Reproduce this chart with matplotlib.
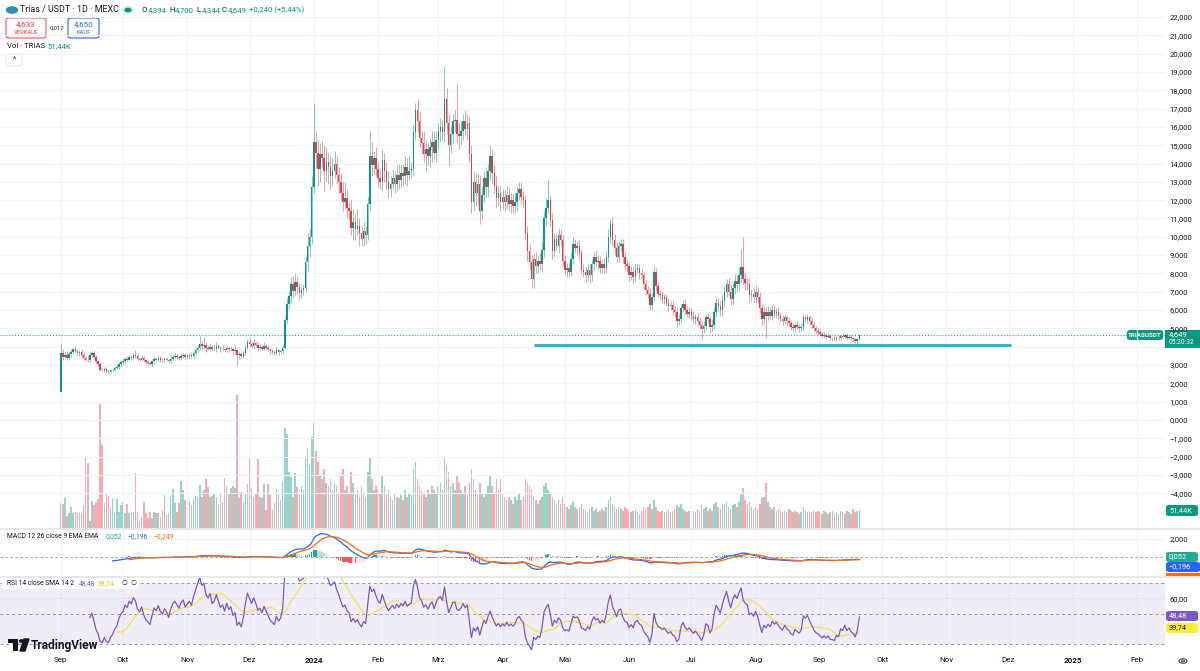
import numpy as np
import pandas as pd
import matplotlib.pyplot as plt
from matplotlib.patches import Rectangle, Circle, Polygon, FancyBboxPatch

plt.rcParams['font.family'] = ['Roboto', 'DejaVu Sans']

# ---- daily candles, 1 Sep 2023 .. 20 Sep 2024 (index = day number) ----
first_open = 1.55
close = [
    # Sep 2023
    3.65, 3.45, 3.55, 3.40, 3.60, 3.70, 3.85, 3.75, 3.65, 3.70, 3.55, 3.40, 3.30, 3.25, 3.55,
    3.65, 3.45, 3.20, 3.05, 2.75, 2.70, 2.80, 2.65, 2.60, 2.70, 2.75, 2.85, 2.90, 3.05, 3.15,
    # Oct
    3.20, 3.35, 3.30, 3.45, 3.40, 3.55, 3.50, 3.35, 3.30, 3.40, 3.25, 3.15, 3.10, 3.05, 3.20, 3.35,
    3.30, 3.40, 3.30, 3.25, 3.35, 3.30, 3.20, 3.35, 3.45, 3.50, 3.45, 3.40, 3.50, 3.55, 3.45,
    # Nov
    3.50, 3.55, 3.50, 3.65, 3.80, 3.95, 4.15, 4.05, 4.10, 3.95, 3.90, 4.00, 3.85, 3.90, 4.05,
    3.95, 3.85, 3.90, 3.80, 3.95, 3.85, 3.90, 3.75, 3.80, 3.55, 3.60, 3.50, 3.65, 3.95, 4.25,
    # Dec
    4.15, 4.05, 4.20, 4.10, 3.95, 4.00, 3.90, 4.05, 3.95, 3.85, 3.75, 3.70, 3.65, 3.80, 3.70, 3.75,
    3.95, 5.45, 6.35, 6.75, 7.40, 7.05, 7.55, 7.25, 6.95, 7.10, 7.20, 8.65, 9.50, 10.00, 12.70,
    # Jan 2024
    15.20, 14.60, 13.70, 14.50, 14.30, 13.60, 14.10, 13.80, 13.30, 13.60, 14.00, 13.40, 13.00, 12.40,
    11.90, 12.10, 11.60, 11.40, 10.50, 10.80, 10.40, 10.60, 10.20, 9.90, 10.30, 10.10, 11.80, 14.40,
    13.90, 14.30, 13.70,
    # Feb
    13.20, 13.00, 14.20, 13.60, 13.00, 12.60, 12.90, 13.20, 12.90, 13.40, 13.10, 13.50, 13.30, 13.80,
    13.40, 13.60, 13.70, 15.70, 16.90, 16.30, 15.40, 15.10, 14.50, 14.80, 14.40, 14.90, 15.20, 14.60,
    15.30,
    # Mar
    15.80, 16.00, 15.70, 17.50, 16.20, 15.00, 15.60, 16.30, 16.40, 15.60, 15.50, 15.80, 16.30, 15.90,
    16.20, 14.50, 11.90, 13.00, 12.40, 12.90, 11.40, 12.30, 13.20, 12.70, 13.60, 14.40, 13.50, 12.80,
    12.10, 12.40, 11.90,
    # Apr
    12.20, 11.90, 12.30, 11.80, 12.00, 11.70, 11.90, 12.40, 12.60, 12.20, 12.00, 10.20, 9.20, 8.60,
    7.70, 8.80, 8.40, 8.70, 8.50, 9.30, 11.00, 11.60, 12.00, 10.90, 9.20, 9.90, 9.50, 10.10, 9.80, 8.70,
    # May
    8.20, 8.30, 8.10, 8.80, 9.60, 9.40, 9.50, 9.10, 8.20, 8.10, 7.90, 8.20, 7.90, 8.50, 8.90, 8.60,
    8.70, 8.30, 8.50, 8.30, 8.90, 10.00, 10.70, 9.80, 9.40, 8.90, 9.50, 9.60, 8.90, 8.50, 8.40,
    # Jun
    7.90, 8.10, 7.80, 8.20, 8.30, 8.00, 7.90, 7.40, 7.10, 6.90, 6.30, 6.70, 8.10, 7.30, 6.90,
    6.80, 6.60, 6.70, 6.40, 6.20, 6.30, 6.00, 5.90, 5.40, 5.50, 6.10, 6.35, 6.00, 5.80, 5.90,
    # Jul
    5.70, 5.50, 5.60, 5.40, 5.20, 4.95, 5.15, 5.60, 5.50, 5.05, 5.20, 5.90, 6.40, 6.20, 6.00, 6.50,
    7.00, 7.45, 7.00, 6.60, 7.20, 7.60, 7.40, 7.90, 8.35, 7.70, 7.50, 7.40, 6.80, 6.90, 6.70,
    # Aug
    7.00, 6.70, 6.10, 5.50, 5.90, 5.70, 5.90, 5.70, 6.00, 5.80, 5.90, 5.70, 5.50, 5.40, 5.60, 5.40,
    5.30, 5.10, 5.00, 5.20, 5.10, 5.00, 5.10, 5.60, 5.50, 5.60, 5.40, 5.20, 5.00, 4.85, 4.80,
    # Sep 2024
    4.70, 4.60, 4.65, 4.55, 4.60, 4.45, 4.45, 4.40, 4.50, 4.45, 4.60, 4.55, 4.65, 4.50, 4.55,
    4.45, 4.40, 4.30, 4.394, 4.649,
]
wick_up = [
    0.55, 0.25, 0.15, 0.20, 0.15, 0.20, 0.10, 0.20, 0.15, 0.10, 0.20, 0.15, 0.10, 0.25, 0.20,
    0.10, 0.15, 0.10, 0.10, 0.10, 0.15, 0.10, 0.10, 0.05, 0.10, 0.10, 0.10, 0.15, 0.10, 0.10,
    0.15, 0.10, 0.15, 0.10, 0.10, 0.10, 0.25, 0.10, 0.10, 0.15, 0.10, 0.10, 0.10, 0.10, 0.10, 0.15,
    0.10, 0.15, 0.10, 0.10, 0.10, 0.10, 0.10, 0.20, 0.10, 0.15, 0.10, 0.10, 0.15, 0.10, 0.10,
    0.10, 0.10, 0.15, 0.10, 0.15, 0.15, 0.45, 0.20, 0.45, 0.15, 0.15, 0.20, 0.10, 0.25, 0.20,
    0.10, 0.10, 0.20, 0.10, 0.15, 0.10, 0.15, 0.10, 0.30, 0.10, 0.15, 0.10, 0.10, 0.15, 0.15,
    0.20, 0.15, 0.20, 0.10, 0.15, 0.15, 0.10, 0.20, 0.10, 0.15, 0.10, 0.10, 0.10, 0.20, 0.10, 0.10,
    0.15, 0.20, 0.30, 0.30, 0.40, 0.45, 0.50, 0.30, 0.25, 0.25, 0.20, 0.30, 0.70, 0.50, 0.60,
    2.10, 0.60, 0.70, 0.60, 0.80, 0.70, 0.80, 0.50, 0.60, 0.70, 0.70, 0.40, 0.40, 0.50,
    0.60, 0.90, 0.50, 0.30, 0.60, 0.70, 0.50, 0.90, 0.40, 0.40, 0.50, 0.30, 0.40, 1.40,
    0.80, 0.40, 0.60,
    0.40, 0.50, 0.60, 0.40, 0.50, 0.60, 0.40, 0.50, 0.40, 0.50, 0.60, 0.40, 0.50, 0.60,
    0.50, 0.80, 0.40, 0.40, 0.40, 0.60, 0.50, 0.40, 0.70, 0.50, 0.40, 0.50, 0.60, 0.60,
    0.50,
    0.40, 0.50, 0.40, 1.80, 0.60, 0.50, 0.50, 0.40, 0.50, 2.00, 0.60, 0.50, 0.40, 0.60,
    0.50, 0.40, 0.50, 0.60, 0.50, 0.60, 0.50, 0.50, 0.40, 0.60, 0.40, 0.60, 0.40, 0.40,
    0.50, 0.40, 0.40,
    0.40, 0.40, 0.50, 0.40, 0.40, 0.40, 0.50, 0.40, 0.40, 0.40, 0.30, 0.30, 0.40, 0.40,
    0.40, 0.30, 0.40, 0.30, 0.40, 0.40, 0.40, 0.50, 1.10, 0.30, 0.40, 0.30, 0.30, 0.40, 0.30, 0.30,
    0.30, 0.25, 0.30, 0.35, 0.40, 0.30, 0.25, 0.30, 0.20, 0.30, 0.25, 0.30, 0.35, 0.30, 0.25, 0.40,
    0.30, 0.25, 0.30, 0.35, 0.30, 0.45, 0.25, 0.40, 0.35, 0.30, 0.25, 0.30, 0.30, 0.25, 0.30,
    0.25, 0.30, 0.25, 0.30, 0.25, 0.20, 0.30, 0.20, 0.25, 0.20, 0.30, 0.25, 0.30, 0.20, 0.25,
    0.20, 0.25, 0.20, 0.20, 0.25, 0.20, 0.25, 0.20, 0.25, 0.30, 0.25, 0.20, 0.25, 0.20, 0.25,
    0.20, 0.25, 0.20, 0.25, 0.20, 0.20, 0.25, 0.20, 0.25, 0.20, 0.30, 0.25, 0.30, 0.25, 0.30, 0.35,
    0.30, 0.25, 0.30, 0.35, 0.30, 0.35, 0.30, 0.45, 1.00, 1.65, 0.30, 0.25, 0.30, 0.25, 0.30,
    0.30, 0.25, 0.30, 0.25, 0.30, 0.25, 0.30, 0.25, 0.30, 0.25, 0.20, 0.25, 0.20, 0.25, 0.20, 0.15,
    0.20, 0.15, 0.20, 0.15, 0.20, 0.15, 0.20, 0.20, 0.15, 0.20, 0.15, 0.20, 0.15, 0.15, 0.15,
    0.15, 0.10, 0.15, 0.10, 0.15, 0.10, 0.10, 0.15, 0.10, 0.15, 0.10, 0.15, 0.10, 0.10, 0.10,
    0.15, 0.10, 0.10, 0.10, 0.051,
]
wick_dn = [
    0.05, 0.15, 0.10, 0.10, 0.10, 0.15, 0.10, 0.10, 0.10, 0.15, 0.10, 0.15, 0.10, 0.10, 0.10,
    0.15, 0.10, 0.15, 0.10, 0.10, 0.05, 0.10, 0.10, 0.10, 0.05, 0.10, 0.10, 0.05, 0.10, 0.10,
    0.10, 0.10, 0.10, 0.10, 0.15, 0.10, 0.10, 0.10, 0.10, 0.10, 0.10, 0.10, 0.10, 0.10, 0.10, 0.10,
    0.10, 0.10, 0.15, 0.10, 0.10, 0.10, 0.10, 0.10, 0.10, 0.10, 0.10, 0.10, 0.10, 0.10, 0.10,
    0.10, 0.10, 0.10, 0.10, 0.10, 0.10, 0.10, 0.15, 0.20, 0.25, 0.10, 0.15, 0.10, 0.10, 0.20,
    0.10, 0.15, 0.10, 0.10, 0.10, 0.15, 0.10, 0.20, 0.10, 0.55, 0.20, 0.10, 0.10, 0.10, 0.10,
    0.15, 0.10, 0.10, 0.10, 0.20, 0.10, 0.10, 0.10, 0.10, 0.10, 0.15, 0.10, 0.10, 0.10, 0.15, 0.10,
    0.10, 0.10, 0.20, 0.30, 0.35, 0.40, 0.30, 0.35, 0.40, 0.30, 0.30, 0.20, 0.50, 0.60, 0.40,
    0.30, 0.80, 0.90, 0.70, 0.50, 1.10, 0.60, 0.90, 0.70, 0.50, 0.40, 0.50, 0.60, 0.40,
    0.50, 0.40, 0.60, 0.50, 0.40, 0.70, 0.60, 0.30, 0.70, 0.40, 0.40, 0.50, 0.30, 0.40,
    0.60, 0.50, 0.40,
    0.50, 0.40, 0.50, 0.60, 0.40, 0.50, 0.40, 0.30, 0.50, 0.40, 0.50, 0.40, 0.50, 0.40,
    0.60, 0.30, 0.40, 0.30, 0.40, 0.60, 0.50, 0.60, 0.40, 0.90, 0.50, 0.60, 0.80, 0.40,
    0.50,
    0.50, 0.60, 0.40, 0.50, 0.60, 1.10, 0.40, 0.50, 0.60, 0.50, 0.70, 0.50, 0.50, 0.40,
    0.60, 0.40, 0.60, 0.50, 0.70, 0.60, 0.70, 0.50, 0.40, 0.60, 0.50, 0.50, 0.60, 0.40,
    0.50, 0.40, 0.50,
    0.40, 0.50, 0.40, 0.40, 0.50, 0.40, 0.40, 0.50, 0.40, 0.40, 0.40, 0.40, 0.50, 0.40,
    0.50, 0.50, 0.40, 0.40, 0.30, 0.40, 0.40, 0.40, 0.30, 0.30, 0.40, 0.30, 0.30, 0.40, 0.30, 0.30,
    0.30, 0.40, 0.30, 0.25, 0.30, 0.30, 0.35, 0.30, 0.25, 0.30, 0.35, 0.30, 0.40, 0.30, 0.30, 0.25,
    0.35, 0.30, 0.25, 0.30, 0.30, 0.30, 0.35, 0.30, 0.40, 0.30, 0.25, 0.30, 0.35, 0.30, 0.30,
    0.30, 0.25, 0.30, 0.20, 0.25, 0.30, 0.20, 0.25, 0.30, 0.25, 0.30, 0.25, 0.20, 0.25, 0.20,
    0.25, 0.20, 0.25, 0.20, 0.25, 0.20, 0.25, 0.30, 0.35, 0.20, 0.25, 0.20, 0.25, 0.20, 0.25,
    0.25, 0.20, 0.25, 0.20, 0.25, 0.58, 0.20, 0.25, 0.20, 0.30, 0.20, 0.25, 0.30, 0.25, 0.30, 0.30,
    0.35, 0.30, 0.25, 0.30, 0.35, 0.30, 0.40, 0.30, 0.35, 0.30, 0.40, 0.30, 0.35, 0.30, 0.30,
    0.25, 0.30, 0.25, 0.30, 0.25, 1.25, 0.25, 0.20, 0.25, 0.20, 0.25, 0.20, 0.15, 0.20, 0.15, 0.20,
    0.15, 0.20, 0.15, 0.20, 0.15, 0.20, 0.15, 0.20, 0.15, 0.20, 0.15, 0.20, 0.15, 0.15, 0.15,
    0.10, 0.15, 0.10, 0.15, 0.10, 0.10, 0.15, 0.10, 0.10, 0.10, 0.10, 0.10, 0.10, 0.15, 0.10,
    0.10, 0.15, 0.10, 0.10, 0.05,
]
# volume in thousands of TRIAS
volume = [
    72, 69, 86, 34, 43, 60, 43, 46, 43, 43, 43, 63, 203, 186, 20, 77, 66, 74, 83, 355,
    237, 72, 100, 92, 60, 86, 43, 83, 46, 66, 74, 43, 69, 43, 43, 46, 157, 46, 17, 31,
    74, 43, 29, 46, 29, 46, 43, 43, 31, 51, 94, 37, 43, 94, 112, 72, 46, 72,
    134, 109, 80, 66, 77, 66, 80, 92, 89, 123, 89, 109, 140, 117, 89, 92, 100, 89, 69,
    100, 74, 143, 120, 100, 114, 120, 114, 380, 86, 103, 74, 100, 126, 200, 114, 89, 100, 197,
    89, 86, 126, 51, 126, 94, 51, 72, 112, 97, 80, 134, 286, 269, 160, 146, 89, 157, 117,
    100, 120, 110, 200, 230, 180, 260, 300, 220, 190, 150, 140, 170, 130, 120, 140, 110, 130, 120,
    100, 150, 170, 110, 120, 100, 160, 130, 100, 110, 90, 120, 100, 90, 160, 200, 140, 110, 120,
    110, 100, 150, 120, 100, 110, 90, 80, 100, 90, 85, 95, 80, 110, 90, 100, 95, 170, 190, 140,
    120, 110, 100, 90, 110, 100, 120, 110, 100,
    120, 130, 110, 200, 180, 160, 120, 130, 110, 150, 130, 110, 100, 120, 100, 130, 170, 140, 110,
    100, 130, 100, 90, 100, 120, 150, 120, 100, 140, 110, 140,
    100, 90, 80, 90, 80, 70, 90, 80, 100, 80, 90, 140, 130, 120, 110, 90, 80, 70, 80, 90,
    120, 130, 110, 100, 90, 80, 70, 80, 70, 90,
    70, 60, 55, 65, 75, 60, 55, 60, 70, 55, 50, 45, 55, 60, 50, 55, 45, 50, 55, 50,
    60, 80, 90, 70, 60, 55, 60, 55, 50, 60, 55,
    50, 45, 50, 55, 45, 40, 50, 60, 55, 60, 70, 55, 80, 60, 50, 45, 50, 45, 50, 55,
    45, 50, 55, 65, 60, 70, 55, 50, 45, 50,
    45, 50, 45, 55, 50, 65, 55, 60, 50, 55, 50, 70, 75, 60, 55, 65, 70, 75, 60, 55,
    65, 70, 60, 75, 100, 115, 80, 70, 75, 60, 55,
    60, 55, 70, 85, 90, 130, 75, 60, 55, 60, 50, 55, 50, 45, 50, 45, 55, 50, 45, 50,
    45, 40, 45, 60, 50, 45, 50, 45, 50, 45, 50,
    45, 40, 50, 45, 40, 45, 50, 40, 45, 40, 50, 45, 40, 50, 45, 40, 55, 45, 50, 51.44,
]

month_days = [0, 30, 61, 91, 122, 153, 182, 213, 243, 274, 304, 335, 366, 396, 427, 457, 488, 519]
month_labels = ['Sep', 'Okt', 'Nov', 'Dez', '2024', 'Feb', 'Mrz', 'Apr', 'Mai', 'Jun',
                'Jul', 'Aug', 'Sep', 'Okt', 'Nov', 'Dez', '2025', 'Feb']
support_level = 4.09
support_from, support_to = 228, 458

GREEN, RED, DARK, GRID = '#089981', '#F23645', '#131722', '#F0F3FA'
W, H = 1200, 671

c = np.array(close)
o = np.r_[first_open, c[:-1]]
hi = np.maximum(o, c) + np.array(wick_up)
lo = np.minimum(o, c) - np.array(wick_dn)
days = np.arange(len(c))
rising = c >= o
colors = np.where(rising, GREEN, RED)

# ---- indicators ----
def ema(x, n):
    out = np.full(len(x), np.nan)
    first = int(np.argmax(~np.isnan(x)))
    start = first + n - 1
    out[start] = np.mean(x[first:start + 1])
    a = 2 / (n + 1)
    for i in range(start + 1, len(x)):
        out[i] = a * x[i] + (1 - a) * out[i - 1]
    return out

def rma(x, n):
    out = np.full(len(x), np.nan)
    out[n - 1] = x[:n].mean()
    for i in range(n, len(x)):
        out[i] = (out[i - 1] * (n - 1) + x[i]) / n
    return out

macd = ema(c, 12) - ema(c, 26)
signal = ema(macd, 9)
hist = macd - signal

delta = np.diff(c)
avg_gain = rma(np.clip(delta, 0, None), 14)
avg_loss = rma(np.clip(-delta, 0, None), 14)
rsi = np.r_[np.nan, 100 - 100 / (1 + avg_gain / avg_loss)]
rsi_ma = pd.Series(rsi).rolling(14).mean().to_numpy()

# ---- layout (pixel based) ----
fig = plt.figure(figsize=(W / 100, H / 100), dpi=100)
fig.patch.set_facecolor('white')

def rect(top, bottom, right=1165):
    return [0, 1 - bottom / H, right / W, (bottom - top) / H]

ax = fig.add_axes(rect(0, 528))
axv = ax.twinx()
axm = fig.add_axes(rect(530, 576), sharex=ax)
axr = fig.add_axes(rect(577, 650), sharex=ax)
ax.set_zorder(axv.get_zorder() + 1)
ax.patch.set_visible(False)

for a in (ax, axv, axm, axr):
    for s in a.spines.values():
        s.set_visible(False)

ax.set_xlim(-29.3, 532.4)
ax.set_ylim(-5.9, 22.93)

# volume
axv.bar(days, volume, width=0.75, color=colors, alpha=0.42, linewidth=0)
axv.set_ylim(0, 1509)
axv.set_yticks([])

# candles
ax.vlines(days, lo, hi, colors=colors, linewidth=0.7, alpha=0.5)
body = np.maximum(np.abs(c - o), 0.04)
ax.bar(days, body, bottom=np.minimum(o, c), width=0.72, color=colors, linewidth=0)

ax.axhline(c[-1], color=GREEN, lw=0.7, ls=(0, (1, 2)))
ax.hlines(support_level, support_from, support_to, color='#1CB5CC', lw=2.0)

yt = list(range(-4, 23))
ax.yaxis.tick_right()
ax.set_yticks(yt)
ax.set_yticklabels(['' if v == 4 else f'{v:.3f}'.replace('.', ',').replace('-', '\u2212') for v in yt])
ax.tick_params(axis='y', length=0, pad=3, labelsize=5.5, labelcolor=DARK)
ax.grid(True, color=GRID, lw=0.8)
ax.set_axisbelow(True)

# MACD pane
hcol = []
for i in range(len(hist)):
    prev = hist[i - 1] if i > 0 else np.nan
    if hist[i] >= 0:
        hcol.append('#26A69A' if not (prev > hist[i]) else '#B2DFDB')
    else:
        hcol.append('#FF5252' if not (prev < hist[i]) else '#FFCDD2')
axm.bar(days, np.nan_to_num(hist), width=0.7, color=hcol, linewidth=0)
axm.plot(days, macd, color='#2962FF', lw=0.9)
axm.plot(days, signal, color='#FF6D00', lw=0.9)
axm.axhline(0, color='#9598A1', lw=0.6, ls=(0, (3, 3)))
axm.set_ylim(-2.0, 2.95)
axm.yaxis.tick_right()
axm.set_yticks([2.0])
axm.set_yticklabels(['2,000'])
axm.tick_params(axis='y', length=0, pad=3, labelsize=5.5, labelcolor=DARK)
axm.grid(True, color=GRID, lw=0.8)
axm.set_axisbelow(True)

# RSI pane
axr.axhspan(30, 70, color='#7E57C2', alpha=0.1, lw=0)
for lvl in (70, 50, 30):
    axr.axhline(lvl, color='#9598A1', lw=0.7, ls=(0, (3, 3)))
axr.plot(days, rsi_ma, color='#F5E050', lw=0.9)
axr.plot(days, rsi, color='#7E57C2', lw=0.9)
axr.set_ylim(26.1, 73.9)
axr.yaxis.tick_right()
axr.set_yticks([60])
axr.set_yticklabels(['60,00'])
axr.tick_params(axis='y', length=0, pad=3, labelsize=5.5, labelcolor=DARK)
axr.grid(True, color=GRID, lw=0.8)
axr.set_axisbelow(True)

axr.set_xticks(month_days)
axr.set_xticklabels(month_labels)
axr.tick_params(axis='x', length=0, pad=5.0, labelsize=5.8, labelcolor=DARK)
for t in axr.get_xticklabels():
    if t.get_text() in ('2024', '2025'):
        t.set_fontweight('bold')
ax.tick_params(axis='x', labelbottom=False, length=0)
axm.tick_params(axis='x', labelbottom=False, length=0)

# ---- figure level decorations in pixel coordinates ----
def ftext(x, y, s, **kw):
    kw.setdefault('va', 'center')
    kw.setdefault('fontsize', 5.4)
    kw.setdefault('color', DARK)
    return fig.text(x / W, 1 - y / H, s, **kw)

def fbox(x, y, w, h, fc, ec='none', lw=0, rounded=False):
    if rounded:
        p = FancyBboxPatch((x / W, 1 - (y + h) / H), w / W, h / H,
                           boxstyle='round,pad=0,rounding_size=0.003',
                           transform=fig.transFigure, fc=fc, ec=ec, lw=lw)
    else:
        p = Rectangle((x / W, 1 - (y + h) / H), w / W, h / H,
                      transform=fig.transFigure, fc=fc, ec=ec, lw=lw)
    fig.add_artist(p)

def fcircle(x, y, r, **kw):
    fig.add_artist(Circle((x / W, 1 - y / H), r / W, transform=fig.transFigure, **kw))

# pane separators
for yy in (528.5, 576.5):
    fig.add_artist(plt.Line2D([0, 1], [1 - yy / H] * 2, color='#E0E3EB', lw=1.2,
                              transform=fig.transFigure))

# header legend
fcircle(12, 10, 5.5, color='#2B8FB5')
ftext(20, 10, 'Trias / USDT \u00b7 1D \u00b7 MEXC', fontsize=6.4)
fcircle(128, 10, 6, color='#D9F2EC')
fcircle(128, 10, 3, color=GREEN)
for x0, lab, val in ((142, 'O', '4,394'), (169, 'H', '4,700'), (196, 'L', '4,344'), (222, 'C', '4,649')):
    ftext(x0, 10, lab, fontsize=5.6)
    ftext(x0 + 5.5, 10, val, fontsize=5.6, color=GREEN)
ftext(249, 10, '+0,240 (+5,44%)', fontsize=5.6, color=GREEN)

fbox(6, 18, 40, 20, 'white', '#F7525F', 0.8, rounded=True)
ftext(26, 24.5, '4,633', fontsize=5.8, color='#F23645', ha='center')
ftext(26, 32.5, 'VERKAUF', fontsize=4.2, color='#F23645', ha='center')
ftext(57, 28, '0,017', fontsize=4.3, ha='center')
fbox(68, 18, 31, 20, 'white', '#2962FF', 0.8, rounded=True)
ftext(83.5, 24.5, '4,650', fontsize=5.8, color='#2962FF', ha='center')
ftext(83.5, 32.5, 'KAUF', fontsize=4.2, color='#2962FF', ha='center')

ftext(7, 46, 'Vol \u00b7 TRIAS', fontsize=5.6)
ftext(47, 46, '51,44K', fontsize=5.6, color=GREEN)
fbox(6, 54, 16, 12, 'white', '#E0E3EB', 0.6, rounded=True)
ftext(14, 60, '^', fontsize=5.5, ha='center')

# indicator legends
ftext(7, 537, 'MACD 12 26 close 9 EMA EMA', fontsize=4.9)
ftext(106, 537, '0,052', fontsize=4.9, color='#26A69A')
ftext(128, 537, '\u22120,196', fontsize=4.9, color='#2962FF')
ftext(153, 537, '\u22120,249', fontsize=4.9, color='#FF6D00')

fbox(2, 578, 136, 11, 'white')
ftext(7, 583.5, 'RSI 14 close SMA 14 2', fontsize=4.9)
ftext(79, 583.5, '48,48', fontsize=4.9, color='#7E57C2')
ftext(98, 583.5, '39,74', fontsize=4.9, color='#E3C800')
ftext(122, 583.5, '\u2205  \u2205', fontsize=4.9)

# right-hand value tags
fbox(1127, 330, 36, 10, GREEN, rounded=True)
ftext(1145, 335, 'TRIASUSDT', fontsize=4.5, color='white', ha='center', fontweight='bold')
fbox(1165, 330, 35, 18, GREEN)
ftext(1169, 334.5, '4,649', fontsize=5.5, color='white')
ftext(1169, 343, '05:20:32', fontsize=4.8, color='white')
fbox(1166, 505, 32, 11, GREEN, rounded=True)
ftext(1169, 510.5, '51,44K', fontsize=5.3, color='white')

fbox(1166, 552, 32, 10, '#22AB94', rounded=True)
ftext(1169, 557, '0,052', fontsize=5.3, color='white')
fbox(1166, 562, 34, 10, '#2962FF', rounded=True)
ftext(1168, 567, '\u22120,196', fontsize=5.3, color='white')
fbox(1166, 573, 34, 3, '#FF6D00')

fbox(1166, 611, 32, 10, '#7E57C2', rounded=True)
ftext(1169, 616, '48,48', fontsize=5.3, color='white')
fbox(1166, 623, 32, 10, '#FFEB3B', rounded=True)
ftext(1169, 628, '39,74', fontsize=5.3, color=DARK)

# settings gear
fcircle(1183, 661, 4, fc='none', ec='#434651', lw=0.8)
fcircle(1183, 661, 1.6, fc='none', ec='#434651', lw=0.7)

# TradingView logo
fbox(8, 639, 10, 4, DARK)
fbox(13, 639, 5, 12, DARK)
fcircle(21.5, 641, 2.0, color=DARK)
fig.add_artist(Polygon([(24 / W, 1 - 639 / H), (29 / W, 1 - 639 / H), (25 / W, 1 - 651 / H), (20 / W, 1 - 651 / H)],
                       closed=True, transform=fig.transFigure, color=DARK))
ftext(31, 645, 'TradingView', fontsize=8.6, fontweight='bold')

fig.savefig('out.png', dpi=100)
